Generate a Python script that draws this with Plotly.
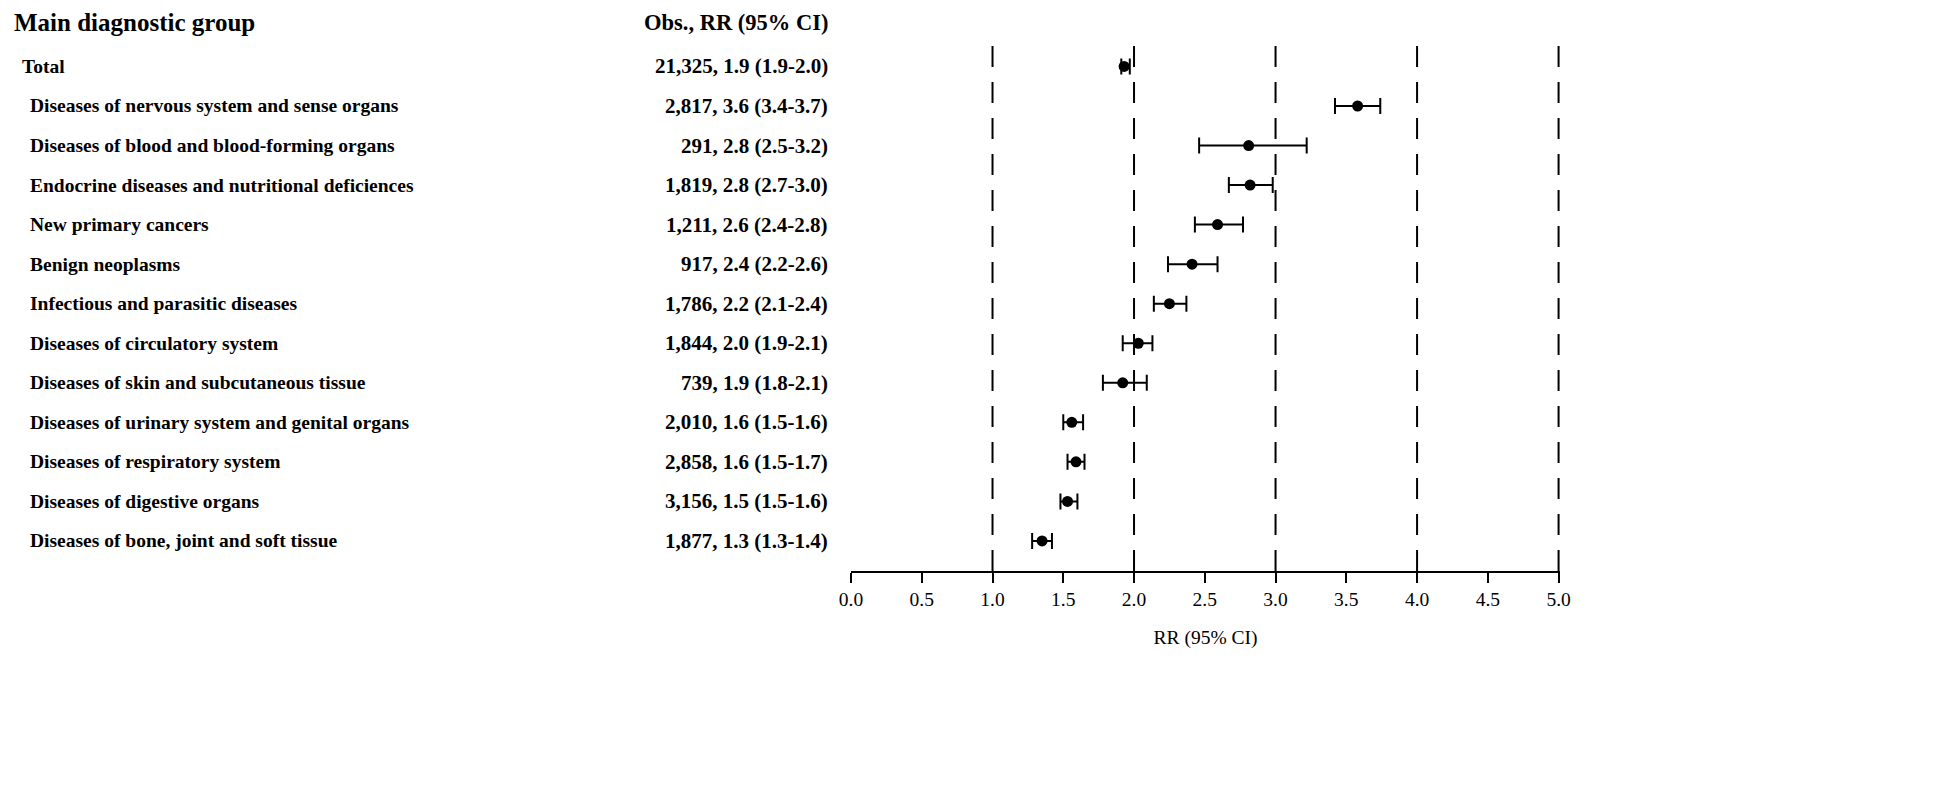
import plotly.graph_objects as go

# forest plot: relative risk by main diagnostic group
groups = [
    'Total',
    'Diseases of nervous system and sense organs',
    'Diseases of blood and blood-forming organs',
    'Endocrine diseases and nutritional deficiences',
    'New primary cancers',
    'Benign neoplasms',
    'Infectious and parasitic diseases',
    'Diseases of circulatory system',
    'Diseases of skin and subcutaneous tissue',
    'Diseases of urinary system and genital organs',
    'Diseases of respiratory system',
    'Diseases of digestive organs',
    'Diseases of bone, joint and soft tissue',
]
obs = ['21,325', '2,817', '291', '1,819', '1,211', '917', '1,786',
       '1,844', '739', '2,010', '2,858', '3,156', '1,877']
rr_text = ['1.9 (1.9-2.0)', '3.6 (3.4-3.7)', '2.8 (2.5-3.2)', '2.8 (2.7-3.0)',
           '2.6 (2.4-2.8)', '2.4 (2.2-2.6)', '2.2 (2.1-2.4)', '2.0 (1.9-2.1)',
           '1.9 (1.8-2.1)', '1.6 (1.5-1.6)', '1.6 (1.5-1.7)', '1.5 (1.5-1.6)',
           '1.3 (1.3-1.4)']
rr = [1.93, 3.58, 2.81, 2.82, 2.59, 2.41, 2.25, 2.03, 1.92, 1.56, 1.59, 1.53, 1.35]
lo = [1.91, 3.42, 2.46, 2.67, 2.43, 2.24, 2.14, 1.92, 1.78, 1.50, 1.53, 1.48, 1.28]
hi = [1.97, 3.74, 3.22, 2.98, 2.77, 2.59, 2.37, 2.13, 2.09, 1.64, 1.65, 1.60, 1.42]
ref_lines = [1.0, 2.0, 3.0, 4.0, 5.0]
ticks = [0.0, 0.5, 1.0, 1.5, 2.0, 2.5, 3.0, 3.5, 4.0, 4.5, 5.0]

serif = 'Liberation Serif'
rows = list(range(len(groups)))

fig = go.Figure()
fig.add_trace(go.Scatter(
    x=rr, y=rows, mode='markers',
    marker=dict(color='black', size=11, symbol='circle'),
    error_x=dict(type='data', symmetric=False,
                 array=[h - r for h, r in zip(hi, rr)],
                 arrayminus=[r - l for r, l in zip(rr, lo)],
                 color='black', thickness=2, width=8),
    showlegend=False, cliponaxis=False,
))

# dashed reference lines, drawn from the axis upward
for v in ref_lines:
    fig.add_shape(type='line', xref='x', yref='paper', x0=v, x1=v, y0=0, y1=1,
                  line=dict(color='black', width=2, dash='21px,15px'), layer='below')

annotations = []
annotations.append(dict(x=-1.1834, y=1.0256, xref='paper', yref='paper',
                        text='<b>Main diagnostic group</b>',
                        showarrow=False, xanchor='left', yanchor='middle',
                        font=dict(family=serif, size=25, color='black')))
annotations.append(dict(x=-0.0293, y=1.0256, xref='paper', yref='paper',
                        text='<b>Obs., RR (95% CI)</b>',
                        showarrow=False, xanchor='right', yanchor='middle',
                        font=dict(family=serif, size=22.5, color='black')))
for i, g in enumerate(groups):
    annotations.append(dict(x=-1.1719 if i == 0 else -1.1605, y=i, xref='paper', yref='y',
                            text='<b>%s</b>' % g, showarrow=False,
                            xanchor='left', yanchor='middle',
                            font=dict(family=serif, size=19.5, color='black')))
    annotations.append(dict(x=-0.0293, y=i, xref='paper', yref='y',
                            text='<b>%s, %s</b>' % (obs[i], rr_text[i]), showarrow=False,
                            xanchor='right', yanchor='middle',
                            font=dict(family=serif, size=21, color='black')))

fig.update_layout(
    width=1939, height=800,
    margin=dict(l=843, r=387, t=28, b=237),
    plot_bgcolor='white', paper_bgcolor='white',
    annotations=annotations,
    xaxis=dict(range=[0, 5.01], tickvals=ticks, tickformat='.1f',
               showline=True, linecolor='black', linewidth=2,
               ticks='outside', ticklen=10, tickwidth=2, tickcolor='black',
               showgrid=False, zeroline=False,
               tickfont=dict(family=serif, size=19.5, color='black'),
               title=dict(text='RR (95% CI)', standoff=21,
                          font=dict(family=serif, size=19.5, color='black'))),
    yaxis=dict(range=[12.76, -0.77], visible=False, showgrid=False, zeroline=False),
)

fig.write_html('out.html')
